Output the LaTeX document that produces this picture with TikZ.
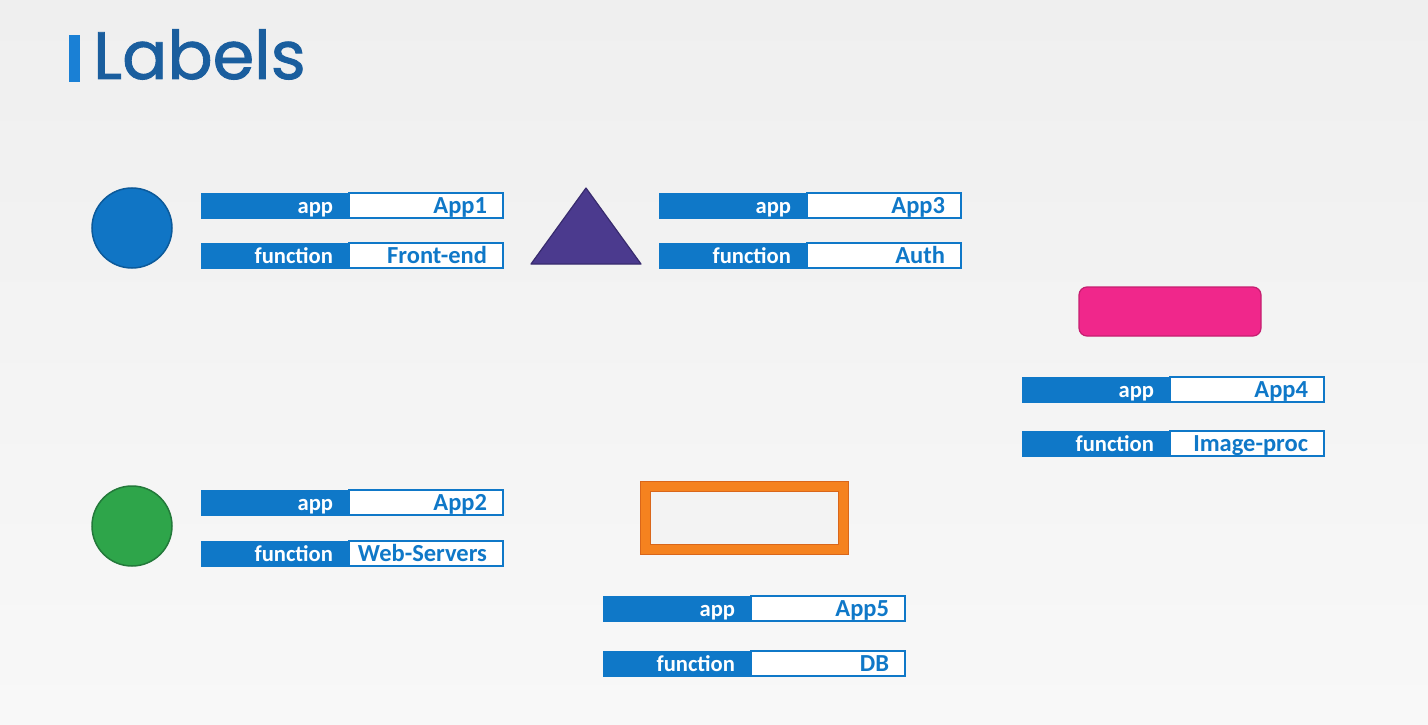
\documentclass[tikz,border=0pt]{standalone}
\usepackage{fontspec}
\setmainfont{Carlito}
\newfontfamily\titlefont[FakeBold=1.3]{Poppins}
\definecolor{kblue}{HTML}{0F78C8}
\definecolor{ttlblue}{HTML}{1A5E9E}
\definecolor{barblue}{HTML}{1A80D5}
\definecolor{bgtop}{HTML}{EFEFEF}
\definecolor{bgbot}{HTML}{F8F8F8}
\definecolor{cblue}{HTML}{1075C5}
\definecolor{cblueD}{HTML}{0C5A9A}
\definecolor{cgreen}{HTML}{2EA54A}
\definecolor{cgreenD}{HTML}{23793A}
\definecolor{cpurple}{HTML}{4B3A8E}
\definecolor{cpurpleD}{HTML}{382B6E}
\definecolor{cpink}{HTML}{F0278B}
\definecolor{cpinkD}{HTML}{C51E70}
\definecolor{corange}{HTML}{F5821F}
\definecolor{corangeD}{HTML}{D9661A}
\tikzset{
  keybox/.style={rectangle, fill=kblue, draw=kblue, line width=1pt, outer sep=0pt,
    minimum width=148pt, minimum height=25pt, inner sep=0pt, text width=116pt, align=right,
    text height=17pt, text depth=2pt, text=white, font=\fontsize{22.6}{22.6}\selectfont\bfseries},
  valbox/.style={rectangle, fill=white, draw=kblue, line width=2pt, outer sep=0pt,
    minimum width=154pt, minimum height=25pt, inner sep=0pt, text width=122pt, align=right,
    text height=18pt, text depth=3pt, text=kblue, font=\fontsize{24.5}{24.5}\selectfont\bfseries},
  podcircle/.style={circle, minimum size=80pt, inner sep=0pt, line width=1.5pt, outer sep=0pt},
}
\newcommand{\kvbar}[5]{%
  \node[keybox, anchor=north west] (#1k) at (#2,#3) {#4};
  \node[valbox, anchor=north west] (#1v) at (#1k.north east) {\hbox to\linewidth{\hss #5}};
}
\begin{document}
\begin{tikzpicture}[x=1pt,y=-1pt]
\useasboundingbox (0,0) rectangle (1428,725);
\shade[top color=bgtop, bottom color=bgbot] (0,0) rectangle (1428,725);
% title
\fill[barblue] (69,35) rectangle (80,82);
\node[anchor=base west, inner sep=0pt, text=ttlblue, font=\titlefont\fontsize{67}{67}\selectfont] (title) at (93,79) {Labels};
% shapes
\node[podcircle, fill=cblue, draw=cblueD] (pod1) at (132,228) {};
\node[podcircle, fill=cgreen, draw=cgreenD] (pod2) at (132,526) {};
\draw[fill=cpurple, draw=cpurpleD, line width=1.2pt, line join=round] (531,264) -- (586,188) -- (641,264) -- cycle;
\node[rectangle, rounded corners=8pt, fill=cpink, draw=cpinkD, line width=1.2pt, minimum width=182pt, minimum height=49pt, anchor=north west, outer sep=0pt] (pod4) at (1079,287) {};
\node[rectangle, draw=corange, line width=10pt, fill=bgtop!60!bgbot, minimum width=198pt, minimum height=63pt, anchor=north west, outer sep=0pt] (pod5) at (645,486) {};
\draw[corangeD, line width=0.8pt] (pod5.north west) ++(-5,-5) rectangle ([shift={(5,5)}]pod5.south east);
\draw[corangeD, line width=0.8pt] (pod5.north west) ++(5,5) rectangle ([shift={(-5,-5)}]pod5.south east);
% label bars
\kvbar{a1}{201}{193}{app}{App1}
\kvbar{f1}{201}{243}{function}{Front-end}
\kvbar{a3}{659}{193}{app}{App3}
\kvbar{f3}{659}{243}{function}{Auth}
\kvbar{a4}{1022}{377}{app}{App4}
\kvbar{f4}{1022}{431}{function}{Image-proc}
\kvbar{a2}{201}{490}{app}{App2}
\kvbar{f2}{201}{541}{function}{Web-Servers}
\kvbar{a5}{603}{596}{app}{App5}
\kvbar{f5}{603}{651}{function}{DB}
\end{tikzpicture}
\end{document}
